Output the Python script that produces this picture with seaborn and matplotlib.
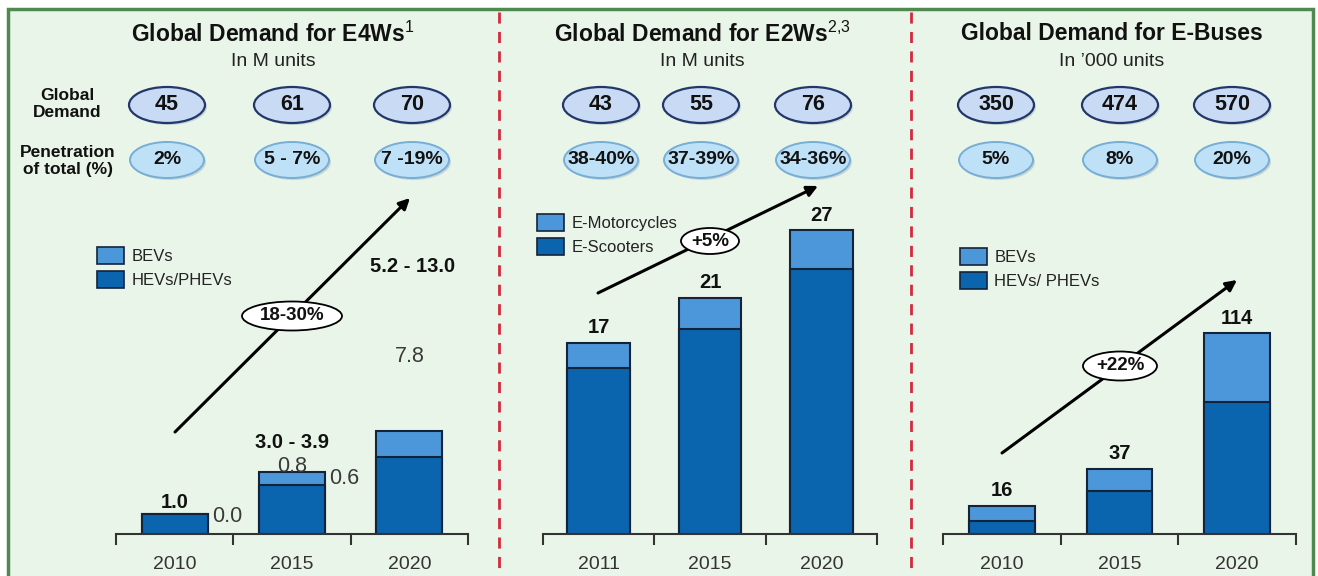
import matplotlib
matplotlib.use("Agg")
import matplotlib.pyplot as plt
from matplotlib.patches import Ellipse, Patch, Rectangle
import seaborn as sns

# ─── Data ─────────────────────────────────────────────────────────────────────

e4w_years = ["2010", "2015", "2020"]
e4w_hev = [1.0, 2.45, 3.85]
e4w_bev = [0.0, 0.65, 1.3]
e4w_total_labels = ["1.0", "3.0 - 3.9", "5.2 - 13.0"]
e4w_demand = ["45", "61", "70"]
e4w_penetration = ["2%", "5 - 7%", "7 -19%"]
e4w_growth = "18-30%"

e2w_years = ["2011", "2015", "2020"]
e2w_scooters = [14.8, 18.2, 23.6]
e2w_motorcycles = [2.2, 2.8, 3.4]
e2w_totals = [17, 21, 27]
e2w_demand = ["43", "55", "76"]
e2w_penetration = ["38-40%", "37-39%", "34-36%"]
e2w_growth = "+5%"

ebus_years = ["2010", "2015", "2020"]
ebus_hev = [7.4, 24.4, 75.0]
ebus_bev = [8.6, 12.6, 39.0]
ebus_totals = [16, 37, 114]
ebus_demand = ["350", "474", "570"]
ebus_penetration = ["5%", "8%", "20%"]
ebus_growth = "+22%"

# ─── Style ────────────────────────────────────────────────────────────────────

W, H = 1318, 576
BG = "#EAF5E9"
FRAME = "#4E8A50"
DIVIDER = "#D42A3C"
DARK = "#0B64AE"
LIGHT = "#4C97DA"
EDGE = "#13233A"
AXIS = "#333333"
BAR_W = 0.56

sns.set_style("white")
plt.rcParams["font.family"] = ["Liberation Sans", "DejaVu Sans"]
plt.rcParams["mathtext.fontset"] = "custom"
plt.rcParams["mathtext.rm"] = "Liberation Sans"

fig = plt.figure(figsize=(W / 100, H / 100), dpi=100)
fig.patch.set_facecolor("white")

# pixel-coordinate canvas for background, headers and dividers
bg = fig.add_axes([0, 0, 1, 1], zorder=0)
bg.set_xlim(0, W)
bg.set_ylim(H, 0)
bg.axis("off")
bg.add_patch(Rectangle((8, 9), 1305, 600, facecolor=BG, edgecolor=FRAME, lw=2.5))
for xd in (499, 911):
    bg.plot([xd, xd], [12, H], color=DIVIDER, lw=2, ls=(0, (4, 3)))


def header(cx, title, unit, xs, demand, penetration):
    bg.text(cx, 34, title, ha="center", va="center", fontsize=16.5, fontweight="bold", color="#111111")
    bg.text(cx, 61, unit, ha="center", va="center", fontsize=14, color="#222222")
    for x, d, p in zip(xs, demand, penetration):
        bg.add_patch(Ellipse((x + 2, 107), 76, 36, facecolor="#8A9BB0", edgecolor="none", alpha=0.35))
        bg.add_patch(Ellipse((x, 105), 76, 36, facecolor="#C9DBF4", edgecolor="#22386A", lw=1.6))
        bg.text(x, 105, d, ha="center", va="center", fontsize=15.5, fontweight="bold", color="#111111")
        bg.add_patch(Ellipse((x + 2, 162), 74, 36, facecolor="#8A9BB0", edgecolor="none", alpha=0.35))
        bg.add_patch(Ellipse((x, 160), 74, 36, facecolor="#BFE1F7", edgecolor="#76AED6", lw=1.4))
        bg.text(x, 160, p, ha="center", va="center", fontsize=14, fontweight="bold", color="#111111")


header(273, r"Global Demand for E4Ws$^{1}$", "In M units", [167, 292, 412], e4w_demand, e4w_penetration)
header(702, r"Global Demand for E2Ws$^{2{,}3}$", "In M units", [601, 701, 813], e2w_demand, e2w_penetration)
header(1112, "Global Demand for E-Buses", "In \u2019000 units", [996, 1120, 1232], ebus_demand, ebus_penetration)
bg.text(67, 104, "Global\nDemand", ha="center", va="center", fontsize=12.5, fontweight="bold",
        linespacing=1.15, color="#111111")
bg.text(68, 161, "Penetration\nof total (%)", ha="center", va="center", fontsize=12.5, fontweight="bold",
        linespacing=1.15, color="#111111")


# ─── Bar panels ───────────────────────────────────────────────────────────────

def bar_axes(x0, x1, px_per_unit, top=180, base=534):
    ax = fig.add_axes([x0 / W, 1 - base / H, (x1 - x0) / W, (base - top) / H], zorder=1)
    ax.set_facecolor("none")
    ax.set_xlim(-0.5, 2.5)
    ax.set_ylim(0, (base - top) / px_per_unit)
    return ax


def stacked(ax, years, lower, upper):
    totals = [a + b for a, b in zip(lower, upper)]
    sns.barplot(x=years, y=totals, color=LIGHT, saturation=1, width=BAR_W, errorbar=None,
                edgecolor=EDGE, linewidth=1.5, ax=ax)
    sns.barplot(x=years, y=lower, color=DARK, saturation=1, width=BAR_W, errorbar=None,
                edgecolor=EDGE, linewidth=1.5, ax=ax)
    ax.set_xlim(-0.5, 2.5)
    for s in ("top", "right", "left"):
        ax.spines[s].set_visible(False)
    ax.spines["bottom"].set_color(AXIS)
    ax.spines["bottom"].set_linewidth(1.5)
    ax.set_yticks([])
    ax.set_xticks([-0.5, 0.5, 1.5, 2.5], minor=True)
    ax.tick_params(axis="x", which="minor", bottom=True, length=8, width=1.5, color=AXIS, direction="out")
    ax.tick_params(axis="x", which="major", bottom=True, length=0, pad=16, labelsize=14, labelcolor="#333333")
    ax.set_xlabel("")
    ax.set_ylabel("")
    return totals


def legend(ax, x, y, labels):
    handles = [Patch(facecolor=LIGHT, edgecolor=EDGE, lw=1.2), Patch(facecolor=DARK, edgecolor=EDGE, lw=1.2)]
    ax.legend(handles, labels, loc="upper left", bbox_to_anchor=(x / W, 1 - y / H),
              bbox_transform=fig.transFigure, frameon=False, fontsize=12, handlelength=1.6,
              handleheight=1.2, handletextpad=0.45, labelspacing=0.4, borderpad=0, borderaxespad=0,
              labelcolor="#222222")


def value_labels(ax, totals, labels, dy=15):
    for i, (t, lab) in enumerate(zip(totals, labels)):
        ax.annotate(lab, (i, t), xytext=(0, dy), textcoords="offset pixels", ha="center", va="center",
                    fontsize=14.5, fontweight="bold", color="#111111", annotation_clip=False)


# E4Ws
ax1 = bar_axes(116, 468, 20)
t1 = stacked(ax1, e4w_years, e4w_hev, e4w_bev)
legend(ax1, 97, 247, ["BEVs", "HEVs/PHEVs"])
for i, (lab, dx, dy) in enumerate(zip(e4w_total_labels, [0, 0, 3], [12, 30, 165])):
    ax1.annotate(lab, (i, t1[i]), xytext=(dx, dy), textcoords="offset pixels", ha="center", va="center",
                 fontsize=14.5, fontweight="bold", color="#111111", annotation_clip=False)
# stray segment labels of the original slide
for (i, lab, dx, dy) in [(0, "0.0", 53, -2), (1, "0.8", 0, 6), (1, "0.6", 52, -7), (2, "7.8", 0, 75)]:
    ax1.annotate(lab, (i, t1[i]), xytext=(dx, dy), textcoords="offset pixels", ha="center", va="center",
                 fontsize=15.5, color="#3A3A3A", annotation_clip=False)

# E2Ws
ax2 = bar_axes(543, 877, 11.25)
stacked(ax2, e2w_years, e2w_scooters, e2w_motorcycles)
legend(ax2, 537, 214, ["E-Motorcycles", "E-Scooters"])
value_labels(ax2, e2w_totals, [str(v) for v in e2w_totals])

# E-Buses
ax3 = bar_axes(943, 1296, 1.763)
stacked(ax3, ebus_years, ebus_hev, ebus_bev)
legend(ax3, 960, 248, ["BEVs", "HEVs/ PHEVs"])
value_labels(ax3, ebus_totals, [str(v) for v in ebus_totals])

# ─── Growth arrows ────────────────────────────────────────────────────────────

ov = fig.add_axes([0, 0, 1, 1], zorder=5)
ov.set_facecolor("none")
ov.set_xlim(0, W)
ov.set_ylim(H, 0)
ov.axis("off")
for start, end, centre, size, txt in [
    ((175, 432), (410, 198), (292, 316), (100, 29), e4w_growth),
    ((598, 293), (818, 186), (710, 241), (58, 26), e2w_growth),
    ((1002, 453), (1237, 280), (1120, 366), (74, 29), ebus_growth),
]:
    ov.annotate("", xy=end, xytext=start,
                arrowprops=dict(arrowstyle="-|>", color="black", lw=2.2, mutation_scale=16,
                                shrinkA=0, shrinkB=0))
    ov.add_patch(Ellipse(centre, size[0], size[1], facecolor="white", edgecolor="black", lw=1.3, zorder=3))
    ov.text(centre[0], centre[1], txt, ha="center", va="center", fontsize=13.5, fontweight="bold",
            color="#111111", zorder=4)

fig.savefig("out.png", dpi=100)
